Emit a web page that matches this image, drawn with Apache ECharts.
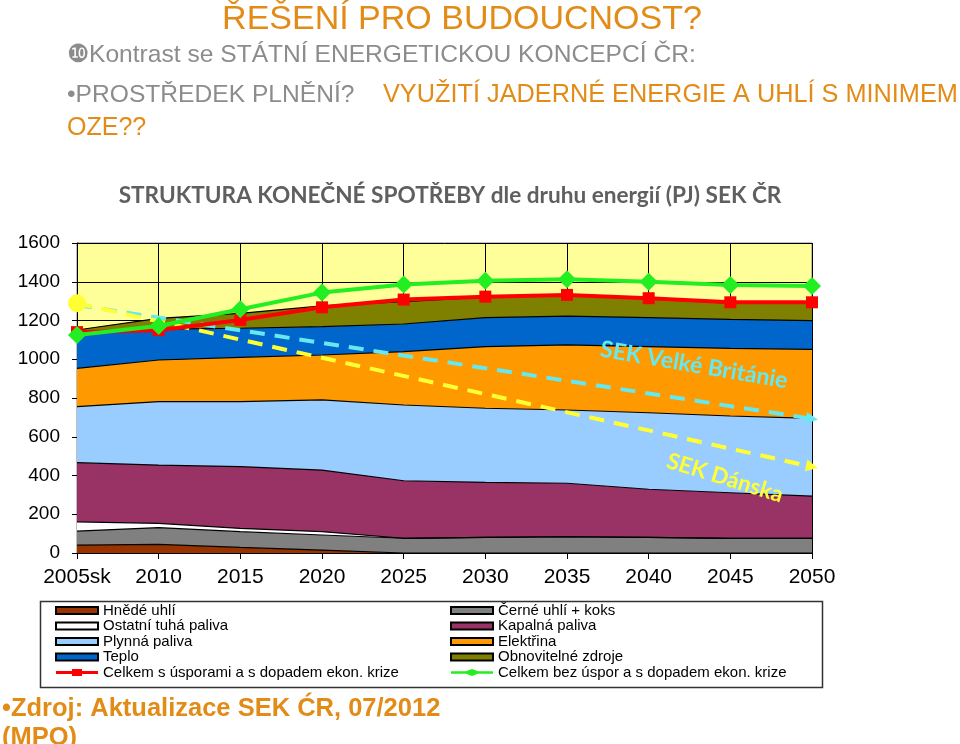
<!DOCTYPE html>
<html><head><meta charset="utf-8">
<script src="https://cdn.jsdelivr.net/npm/echarts@6/dist/echarts.min.js"></script>
<style>html,body{margin:0;padding:0;background:#fff}#c{width:960px;height:744px}</style>
</head><body><div id="c"></div>
<script>
const categories = ['2005sk','2010','2015','2020','2025','2030','2035','2040','2045','2050'];
const hnedeUhli   = [41,45,29,15,0,0,0,0,0,0];
const cerneUhli   = [72,86,81,78,76,81,84,81,76,76];
const ostatniTuha = [48,22,17,17,0,0,0,0,0,0];
const kapalna     = [305,301,319,318,297,284,276,248,235,218];
const plynna      = [289,327,335,362,391,382,378,395,396,401];
const elektrina   = [198,215,229,232,275,318,336,341,349,356];
const teplo       = [181,159,150,146,143,150,149,150,150,148];
const obnovitelne = [17,56,77,107,115,105,107,97,84,91];
const celkemSUsporami = [1140,1150,1203,1268,1308,1323,1332,1315,1294,1294];
const celkemBezUspor  = [1125,1172,1258,1344,1386,1405,1413,1400,1383,1378];
const sekDanska = [['2005sk',1289],['2050',445]];
const sekVB     = [['2005sk',1280],['2050',693]];
const yMin = 0, yMax = 1600, yStep = 200;

const areaDefs = [
  ['Hnědé uhlí', hnedeUhli, '#993300'],
  ['Černé uhlí + koks', cerneUhli, '#808080'],
  ['Ostatní tuhá paliva', ostatniTuha, '#FFFFFF'],
  ['Kapalná paliva', kapalna, '#993366'],
  ['Plynná paliva', plynna, '#99CCFF'],
  ['Elektřina', elektrina, '#FF9900'],
  ['Teplo', teplo, '#0066CC'],
  ['Obnovitelné zdroje', obnovitelne, '#808000']
];
const series = areaDefs.map(d => ({
  name: d[0], type: 'line', stack: 'total', data: d[1], symbol: 'none',
  lineStyle: {color: '#000', width: 1.2},
  areaStyle: {color: d[2], opacity: 1},
  itemStyle: {color: d[2], borderColor: '#000', borderWidth: 1},
  z: 2
}));
const redName = 'Celkem s úsporami a s dopadem ekon. krize';
const greenName = 'Celkem bez úspor a s dopadem ekon. krize';
series.push({
  name: redName, type: 'line', data: celkemSUsporami,
  symbol: 'rect', symbolSize: 12, lineStyle: {color: '#FF0000', width: 4},
  itemStyle: {color: '#FF0000'}, z: 5
});
series.push({
  name: greenName, type: 'line', data: celkemBezUspor,
  symbol: 'diamond', symbolSize: 18, lineStyle: {color: '#22EE22', width: 4},
  itemStyle: {color: '#22EE22'}, z: 6
});
function arrowSeries(name, pts, color, startSym) {
  return {
    name: name, type: 'line', data: [], z: 7, silent: true,
    markLine: {
      silent: true, animation: false,
      lineStyle: {color: color, width: 4, type: [15, 10], opacity: 1},
      label: {show: false},
      data: [[
        {coord: pts[0], symbol: startSym, symbolSize: startSym === 'none' ? 0 : 18, itemStyle: {color: color}},
        {coord: pts[1], symbol: 'triangle', symbolSize: [12, 12], itemStyle: {color: color}}
      ]]
    }
  };
}
series.push(arrowSeries('SEK Velké Británie', sekVB, '#66E8F0', 'none'));
series.push(arrowSeries('SEK Dánska', sekDanska, '#FFFF33', 'circle'));

const legText = {fontFamily: 'Liberation Sans, Arial', fontSize: 15, color: '#000', lineHeight: 15};
const redIcon = 'path://M0,2 L16,2 L16,0 L26,0 L26,2 L42,2 L42,5 L26,5 L26,7 L16,7 L16,5 L0,5 Z';
const greenIcon = 'path://M0,2.3 L15,2.3 L21,0 L27,2.3 L42,2.3 L42,4.7 L27,4.7 L21,7 L15,4.7 L0,4.7 Z';
function legItems(names) {
  return names.map(n => n === redName ? {name: n, icon: redIcon}
    : n === greenName ? {name: n, icon: greenIcon}
    : {name: n, icon: 'rect'});
}
const orange = '#E38B17', grey = '#8C8C8C';
const chart = echarts.init(document.getElementById('c'));
chart.setOption({
  animation: false,
  backgroundColor: '#fff',
  grid: {left: 77, right: 148, top: 243, bottom: 191, show: true, backgroundColor: '#FFFF99', borderColor: '#808080', borderWidth: 1},
  xAxis: {
    type: 'category', data: categories, boundaryGap: false,
    axisLine: {lineStyle: {color: '#000', width: 1}},
    axisTick: {show: true, length: 6, lineStyle: {color: '#000'}, alignWithLabel: true},
    axisLabel: {fontFamily: 'Liberation Sans, Arial', fontSize: 21, color: '#000', margin: 14, interval: 0},
    splitLine: {show: true, lineStyle: {color: '#000', width: 1}}
  },
  yAxis: {
    type: 'value', min: yMin, max: yMax, interval: yStep,
    axisLine: {show: true, lineStyle: {color: '#000', width: 1}},
    axisTick: {show: true, length: 5, lineStyle: {color: '#000'}},
    axisLabel: {fontFamily: 'Liberation Sans, Arial', fontSize: 19, color: '#000', margin: 17, formatter: v => String(v)},
    splitLine: {show: true, lineStyle: {color: '#000', width: 1}}
  },
  legend: [
    {orient: 'vertical', left: 50, top: 598, itemWidth: 42, itemHeight: 7, itemGap: 0.5, textStyle: legText,
     data: legItems(['Hnědé uhlí','Ostatní tuhá paliva','Plynná paliva','Teplo',redName]), selectedMode: false},
    {orient: 'vertical', left: 445, top: 598, itemWidth: 42, itemHeight: 7, itemGap: 0.5, textStyle: legText,
     data: legItems(['Černé uhlí + koks','Kapalná paliva','Elektřina','Obnovitelné zdroje',greenName]), selectedMode: false}
  ],
  graphic: [
    {type: 'rect', left: 38, top: 599, shape: {width: 782, height: 86}, style: {fill: 'none', stroke: '#333', lineWidth: 1.5}, z: -1},
    {type: 'text', x: 462, y: 20, style: {text: 'ŘEŠENÍ PRO BUDOUCNOST?', fill: orange, font: '34px "Liberation Sans", Arial', textAlign: 'center', textVerticalAlign: 'middle'}},
    {type: 'text', x: 67, y: 55, style: {text: '❿Kontrast se STÁTNÍ ENERGETICKOU KONCEPCÍ ČR:', fill: grey, font: '24.6px "Liberation Sans", Arial', textAlign: 'left', textVerticalAlign: 'middle'}},
    {type: 'text', x: 67, y: 95, style: {text: '{g|•PROSTŘEDEK PLNĚNÍ?}{o|VYUŽITÍ JADERNÉ ENERGIE A UHLÍ S MINIMEM}', font: '24.6px "Liberation Sans", Arial', textAlign: 'left', textVerticalAlign: 'middle',
      rich: {g: {fill: grey, font: '24.6px "Liberation Sans", Arial', width: 316}, o: {fill: orange, font: '25.3px "Liberation Sans", Arial'}}}},
    {type: 'text', x: 67, y: 128, style: {text: 'OZE??', fill: orange, font: '25px "Liberation Sans", Arial', textAlign: 'left', textVerticalAlign: 'middle'}},
    {type: 'text', x: 450, y: 196, style: {text: 'STRUKTURA KONEČNÉ SPOTŘEBY dle druhu energií (PJ) SEK ČR', fill: '#5f5f5f', font: 'bold 22.6px Lato, "Open Sans", sans-serif', textAlign: 'center', textVerticalAlign: 'middle'}},
    {type: 'text', x: 694, y: 365, rotation: -0.17, z: 100, style: {text: 'SEK Velké Británie', fill: '#66E8F0', font: 'bold 23px Lato, "Open Sans", sans-serif', textAlign: 'center', textVerticalAlign: 'middle'}},
    {type: 'text', x: 725, y: 478, rotation: -0.3, z: 100, style: {text: 'SEK Dánska', fill: '#FFFF33', font: 'bold 22.5px Lato, "Open Sans", sans-serif', textAlign: 'center', textVerticalAlign: 'middle'}},
    {type: 'text', x: 2, y: 694, style: {text: '•Zdroj: Aktualizace SEK ĆR, 07/2012\n(MPO)', fill: orange, font: 'bold 25.5px "Liberation Sans", Arial', textAlign: 'left', textVerticalAlign: 'top', lineHeight: 29}}
  ],
  series: series
});
</script></body></html>
